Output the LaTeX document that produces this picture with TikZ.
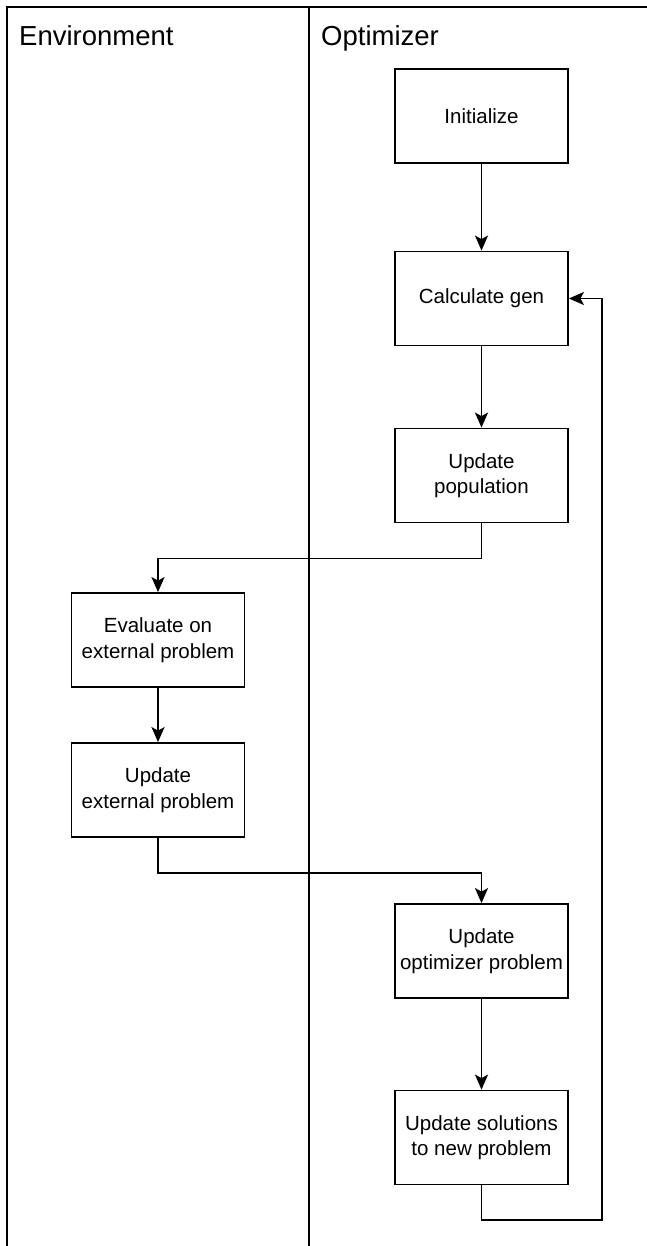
\documentclass[tikz,border=0pt]{standalone}
\usepackage{fontspec}
\setmainfont{Liberation Sans}
\usepackage{tikz}
\usetikzlibrary{arrows.meta,positioning}
\tikzset{
  process/.style={draw=black, line width=1.8pt, align=center, font=\fontsize{20.5}{25.5}\selectfont, minimum width=173pt, minimum height=94pt, inner sep=2pt},
  lanetitle/.style={anchor=base west, inner sep=0pt, font=\fontsize{27.5}{32}\selectfont},
  lane/.style={draw=black, line width=2.3pt},
  edge/.style={-{Stealth[length=15pt, width=13pt, inset=3.5pt]}, line width=1.8pt, draw=black}
}
\begin{document}
\begin{tikzpicture}[x=1pt, y=-1pt]
  \useasboundingbox (0,0) rectangle (647,1246);
  % swimlanes
  \draw[lane] (7,1246) |- (647,7);
  \draw[lane] (309,7) -- (309,1246);
  \node[lanetitle] (envtitle) at (19,46) {Environment};
  \node[lanetitle] (opttitle) at (321,46) {Optimizer};
  % optimizer steps
  \node[process] (init) at (481.5,116) {Initialize};
  \node[process] (calc) at (481.5,298.5) {Calculate gen};
  \node[process] (pop) at (481.5,475.5) {Update\\population};
  % environment steps
  \node[process] (eval) at (158,640) {Evaluate on\\external problem};
  \node[process] (ext) at (158,790) {Update\\external problem};
  % back in the optimizer
  \node[process] (opt) at (481.5,951) {Update\\optimizer problem};
  \node[process] (sol) at (481.5,1137.5) {Update solutions\\to new problem};
  \coordinate (loopr) at (602,1220);
  \draw[edge] (init) -- (calc);
  \draw[edge] (calc) -- (pop);
  \draw[edge] (pop.south) -- ++(0,35) -| (eval.north);
  \draw[edge] (eval) -- (ext);
  \draw[edge] (ext.south) -- ++(0,35) -| (opt.north);
  \draw[edge] (opt) -- (sol);
  \draw[edge] (sol.south) |- (loopr) |- (calc.east);
\end{tikzpicture}
\end{document}
